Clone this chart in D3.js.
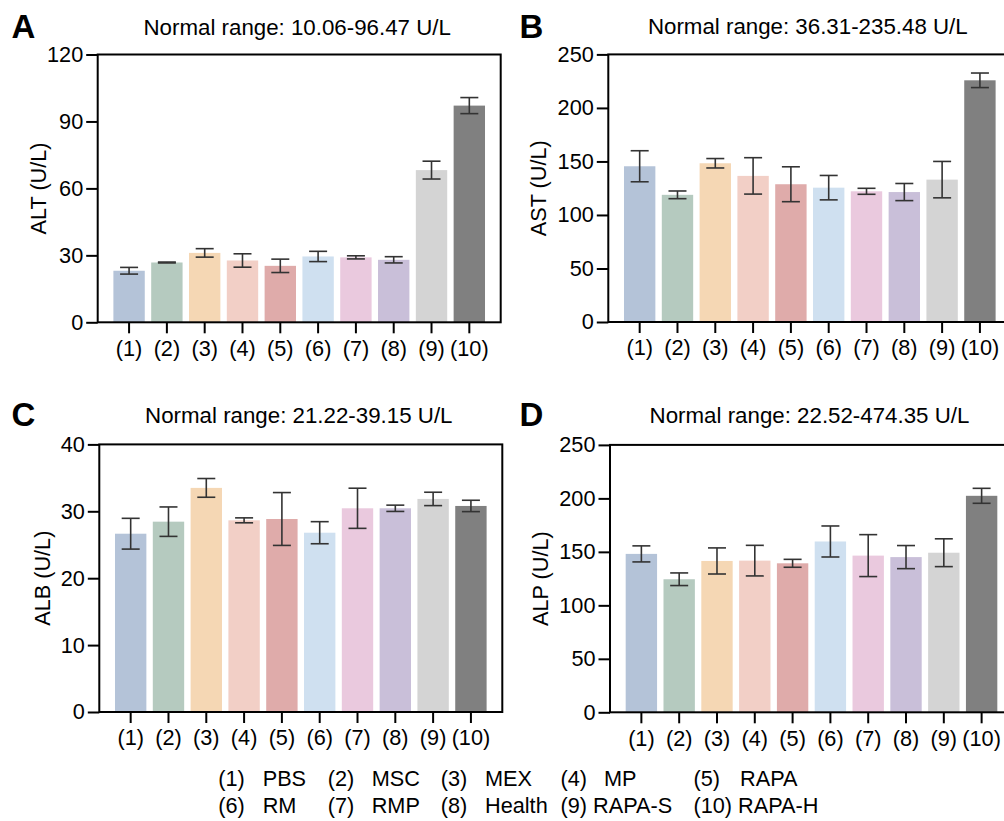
<!DOCTYPE html>
<html>
<head>
<meta charset="utf-8">
<script src="https://cdn.jsdelivr.net/npm/d3@7"></script>
<style>
  html, body { margin: 0; padding: 0; background: #fff; }
  svg { display: block; font-family: "Liberation Sans", Arial, sans-serif; }
</style>
</head>
<body>
<svg id="chart" width="1004" height="821"></svg>
<script>
// ---------- data ----------
const categories = ["(1)", "(2)", "(3)", "(4)", "(5)", "(6)", "(7)", "(8)", "(9)", "(10)"];
const groupNames = ["PBS", "MSC", "MEX", "MP", "RAPA", "RM", "RMP", "Health", "RAPA-S", "RAPA-H"];
const barColors = ["#b4c3d8", "#b5cabf", "#f5d7b4", "#f2cfc6", "#dfabaa", "#cfe0f0", "#eac9de", "#c9bfd9", "#d4d4d4", "#808080"];

const altMean = [23.1, 26.8, 31.1, 27.7, 25.3, 29.5, 29.1, 28.0, 68.2, 97.1];
const altErr  = [1.5, 0.2, 1.9, 3.0, 3.0, 2.3, 0.7, 1.4, 4.0, 3.6];
const astMean = [145.5, 118.8, 148.3, 136.5, 128.7, 125.5, 122.1, 121.4, 133.0, 225.8];
const astErr  = [14.5, 3.6, 4.4, 17.0, 16.3, 11.4, 2.8, 8.0, 17.0, 6.8];
const albMean = [26.65, 28.45, 33.5, 28.65, 28.85, 26.8, 30.45, 30.45, 31.85, 30.8];
const albErr  = [2.3, 2.2, 1.4, 0.37, 3.95, 1.65, 3.0, 0.47, 1.0, 0.85];
const alpMean = [148.1, 124.4, 141.5, 141.8, 139.3, 159.7, 146.5, 145.1, 149.2, 202.4];
const alpErr  = [7.5, 5.9, 12.2, 14.3, 3.7, 14.5, 19.6, 10.8, 13.0, 7.0];

const altTicks = [0, 30, 60, 90, 120];
const astTicks = [0, 50, 100, 150, 200, 250];
const albTicks = [0, 10, 20, 30, 40];
const alpTicks = [0, 50, 100, 150, 200, 250];

const panelLetters = ["A", "B", "C", "D"];
const panelTitles = [
  "Normal range: 10.06-96.47 U/L",
  "Normal range: 36.31-235.48 U/L",
  "Normal range: 21.22-39.15 U/L",
  "Normal range: 22.52-474.35 U/L"
];
const yLabels = ["ALT (U/L)", "AST (U/L)", "ALB (U/L)", "ALP (U/L)"];

// ---------- layout ----------
const W = 403;
const panels = [
  { left: 97.7, top: 54.5, bottom: 322.3, mean: altMean, err: altErr, ticks: altTicks, ytOff: -52, titleDy: -20, letterX: 11.5, letterY: 38.3 },
  { left: 608.3, top: 54.4, bottom: 322.0, mean: astMean, err: astErr, ticks: astTicks, ytOff: -62, titleDy: -20, letterX: 519.5, letterY: 37.5 },
  { left: 99.3, top: 444.4, bottom: 712.0, mean: albMean, err: albErr, ticks: albTicks, ytOff: -49.5, titleDy: -21.6, letterX: 11.5, letterY: 426.3 },
  { left: 610.0, top: 444.9, bottom: 712.3, mean: alpMean, err: alpErr, ticks: alpTicks, ytOff: -62, titleDy: -21.6, letterX: 519.5, letterY: 425.8 }
];

const svg = d3.select("#chart");
const FS = 21.7;
const TFS = 22.3;

panels.forEach((p, i) => {
  const g = svg.append("g");
  const x = d3.scaleBand().domain(categories)
    .range([p.left, p.left + W]).paddingInner(0.17).paddingOuter(0.415);
  const y = d3.scaleLinear().domain([0, d3.max(p.ticks)]).range([p.bottom, p.top]);

  // bars
  g.selectAll("rect.bar").data(p.mean).join("rect")
    .attr("class", "bar")
    .attr("x", (d, j) => x(categories[j]))
    .attr("width", x.bandwidth())
    .attr("y", d => y(d))
    .attr("height", d => y(0) - y(d))
    .attr("fill", (d, j) => barColors[j]);

  // error bars
  const eb = g.selectAll("g.eb").data(p.mean).join("g").attr("class", "eb")
    .attr("stroke", "#333").attr("stroke-width", 1.6).attr("fill", "none");
  const cx = j => x(categories[j]) + x.bandwidth() / 2;
  eb.append("line")
    .attr("x1", (d, j) => cx(j)).attr("x2", (d, j) => cx(j))
    .attr("y1", (d, j) => y(d + p.err[j])).attr("y2", (d, j) => y(d - p.err[j]));
  eb.append("line")
    .attr("x1", (d, j) => cx(j) - 9).attr("x2", (d, j) => cx(j) + 9)
    .attr("y1", (d, j) => y(d + p.err[j])).attr("y2", (d, j) => y(d + p.err[j]));
  eb.append("line")
    .attr("x1", (d, j) => cx(j) - 9).attr("x2", (d, j) => cx(j) + 9)
    .attr("y1", (d, j) => y(d - p.err[j])).attr("y2", (d, j) => y(d - p.err[j]));

  // frame box
  g.append("rect")
    .attr("x", p.left).attr("y", p.top)
    .attr("width", W).attr("height", p.bottom - p.top)
    .attr("fill", "none").attr("stroke", "#000").attr("stroke-width", 2);

  // y axis
  const ya = g.append("g").attr("transform", `translate(${p.left},0)`)
    .call(d3.axisLeft(y).tickValues(p.ticks).tickSize(11.5).tickPadding(3).tickSizeOuter(0));
  ya.select(".domain").remove();
  ya.selectAll(".tick line").attr("stroke", "#000").attr("stroke-width", 2);
  ya.selectAll(".tick text").attr("font-size", FS).attr("fill", "#000")
    .attr("font-family", "'Liberation Sans', Arial, sans-serif");

  // x axis
  const xa = g.append("g").attr("transform", `translate(0,${p.bottom})`)
    .call(d3.axisBottom(x).tickSize(11).tickPadding(7).tickSizeOuter(0));
  xa.select(".domain").remove();
  xa.selectAll(".tick line").attr("stroke", "#000").attr("stroke-width", 2);
  xa.selectAll(".tick text").attr("font-size", FS).attr("fill", "#000")
    .attr("font-family", "'Liberation Sans', Arial, sans-serif");

  // y label
  g.append("text")
    .attr("transform", `translate(${p.left + p.ytOff},${(p.top + p.bottom) / 2}) rotate(-90)`)
    .attr("text-anchor", "middle").attr("font-size", FS).attr("fill", "#000")
    .text(yLabels[i]);

  // title
  g.append("text")
    .attr("x", p.left + W / 2 - 2).attr("y", p.top + p.titleDy)
    .attr("text-anchor", "middle").attr("font-size", TFS).attr("fill", "#000")
    .text(panelTitles[i]);

  // panel letter
  g.append("text")
    .attr("x", p.letterX).attr("y", p.letterY)
    .attr("font-size", 33).attr("font-weight", "bold").attr("fill", "#000")
    .text(panelLetters[i]);
});

// ---------- legend ----------
const legNumX = [218.3, 327.7, 440.7, 560.5, 693.5];
const legNameX = [262.7, 371.7, 485, 604, 740];
const legRowY = [786, 813];
const leg = svg.append("g").attr("font-size", FS).attr("fill", "#000");
categories.forEach((c, j) => {
  const row = Math.floor(j / 5), col = j % 5;
  if (j >= 8) {
    leg.append("text").attr("x", legNumX[col]).attr("y", legRowY[row]).text(c + " " + groupNames[j]);
  } else {
    leg.append("text").attr("x", legNumX[col]).attr("y", legRowY[row]).text(c);
    leg.append("text").attr("x", legNameX[col]).attr("y", legRowY[row]).text(groupNames[j]);
  }
});
</script>
</body>
</html>
